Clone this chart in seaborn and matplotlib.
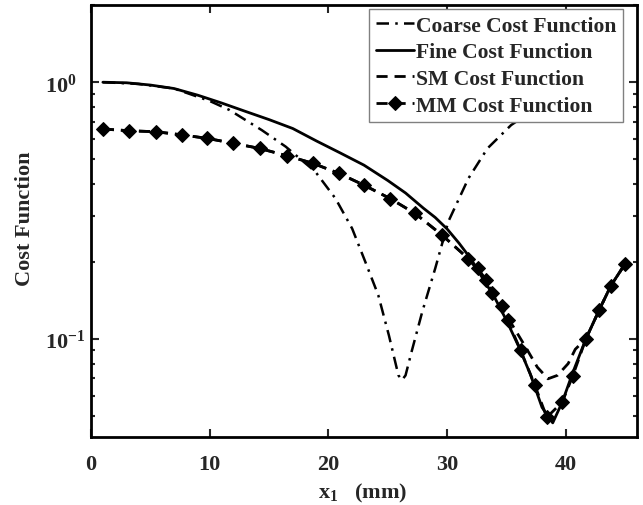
import matplotlib
matplotlib.use('Agg')
from matplotlib import pyplot as plt
from matplotlib.ticker import FixedLocator, LogLocator, NullFormatter
import seaborn as sns

# ─────────────────────────────────────────────
# DATA
# ─────────────────────────────────────────────

fine_x = [1, 3, 5, 7, 9, 11, 13, 15, 17, 19, 21, 23, 25, 26.5, 28, 29, 30, 31,
          32, 33, 34, 35, 36, 37, 38, 38.9, 39.7, 40.6, 41.7, 42.8, 43.8, 45.0]
fine_y = [1.0, 0.995, 0.975, 0.945, 0.89, 0.83, 0.77, 0.715, 0.66, 0.59, 0.53,
          0.475, 0.414, 0.37, 0.323, 0.297, 0.268, 0.236, 0.205, 0.172, 0.145,
          0.118, 0.094, 0.073, 0.054, 0.047, 0.0566, 0.074, 0.100, 0.129, 0.161,
          0.196]

# coarse curve runs on behind the legend after x ~ 36
coarse_x = [1, 4, 7, 10, 11.65, 14.4, 16.4, 18.9, 20.6, 22.0, 23.1, 24.2, 25.1,
            25.9, 26.2, 26.5, 27.0, 27.9, 29.0, 30.1, 31.8, 33.4, 35.4, 38, 41, 44]
coarse_y = [1.0, 0.985, 0.945, 0.845, 0.78, 0.65, 0.561, 0.448, 0.352, 0.269, 0.20,
            0.148, 0.103, 0.072, 0.069, 0.072, 0.0887, 0.127, 0.188, 0.286, 0.422,
            0.552, 0.681, 0.82, 0.96, 1.08]

mm_x = [1.0, 3.2, 5.5, 7.7, 9.8, 12.0, 14.2, 16.5, 18.7, 20.9, 23.0, 25.2, 27.3,
        29.6, 31.8, 32.6, 33.3, 33.8, 34.6, 35.1, 36.2, 37.4, 38.4, 39.7, 40.6,
        41.7, 42.8, 43.8, 45.0]
mm_y = [0.657, 0.647, 0.641, 0.623, 0.604, 0.578, 0.552, 0.517, 0.483, 0.441,
        0.397, 0.352, 0.308, 0.253, 0.205, 0.188, 0.169, 0.151, 0.134, 0.118,
        0.090, 0.0658, 0.0494, 0.0566, 0.0719, 0.100, 0.129, 0.161, 0.196]

sm_x = [1.0, 3.2, 5.5, 7.7, 9.8, 12.0, 14.2, 16.5, 18.7, 20.9, 23.0, 25.2, 27.3,
        29.6, 31.8, 33.3, 35.1, 35.5, 36.7, 37.6, 38.5, 39.3, 40.2, 40.8, 41.7,
        42.8, 43.8, 45.0]
sm_y = [0.657, 0.647, 0.641, 0.623, 0.604, 0.578, 0.552, 0.517, 0.483, 0.441,
        0.397, 0.352, 0.308, 0.253, 0.205, 0.169, 0.118, 0.113, 0.0914, 0.0775,
        0.0698, 0.072, 0.080, 0.091, 0.100, 0.129, 0.161, 0.196]

x_ticks = [0, 10, 20, 30, 40]
y_ticks = [0.1, 1.0]
y_tick_labels = [r'$\mathbf{10^{-1}}$', r'$\mathbf{10^{0}}$']

# ─────────────────────────────────────────────
# STYLE
# ─────────────────────────────────────────────

sns.set_style('ticks')
plt.rcParams['font.family'] = ['Liberation Serif', 'DejaVu Serif']
plt.rcParams['font.weight'] = 'bold'
plt.rcParams['mathtext.fontset'] = 'custom'
plt.rcParams['mathtext.rm'] = 'Liberation Serif:bold'
plt.rcParams['mathtext.bf'] = 'Liberation Serif:bold'
plt.rcParams['mathtext.it'] = 'Liberation Serif:bold'

W, H = 643, 506
L, R, T, B = 91, 637, 6, 438
fig = plt.figure(figsize=(W/100, H/100), dpi=100)
ax = fig.add_axes([L/W, 1-B/H, (R-L)/W, (B-T)/H])

lw = 2.0
sns.lineplot(x=coarse_x, y=coarse_y, ax=ax, color='black', lw=1.8,
             linestyle=(0, (5, 2.5, 1, 2.5)), label='Coarse Cost Function')
sns.lineplot(x=fine_x, y=fine_y, ax=ax, color='black', lw=lw,
             linestyle='-', label='Fine Cost Function')
sns.lineplot(x=sm_x, y=sm_y, ax=ax, color='black', lw=lw,
             linestyle=(0, (4, 2.5)), label='SM Cost Function')
sns.lineplot(x=mm_x, y=mm_y, ax=ax, color='black', lw=lw,
             linestyle=(0, (4, 2.5)), marker='D', markersize=7.5,
             markerfacecolor='black', markeredgecolor='black',
             label='MM Cost Function')

ax.set_yscale('log')
ax.set_xlim(0, 46)
ax.set_ylim(0.0414, 2.0)

ax.xaxis.set_major_locator(FixedLocator(x_ticks))
ax.set_xticklabels([str(t) for t in x_ticks])
ax.yaxis.set_major_locator(FixedLocator(y_ticks))
ax.set_yticklabels(y_tick_labels)
ax.yaxis.set_minor_locator(LogLocator(base=10, subs=range(2, 10)))
ax.yaxis.set_minor_formatter(NullFormatter())

ax.tick_params(which='both', direction='in', top=True, right=True,
               labelsize=16, width=1.5)
ax.tick_params(axis='x', pad=12)
ax.tick_params(axis='y', pad=33)
ax.tick_params(which='major', length=6)
ax.tick_params(which='minor', length=3)
for t in ax.get_yticklabels():
    t.set_horizontalalignment('left')
for s in ax.spines.values():
    s.set_linewidth(2)
    s.set_color('black')

ax.set_xlabel(r'$\mathbf{x_1}$   (mm)', fontsize=16, fontweight='bold')
ax.set_ylabel('Cost Function', fontsize=16, fontweight='bold')
ax.xaxis.set_label_coords((363-L)/(R-L), (B-493)/(B-T))
ax.yaxis.set_label_coords((25-L)/(R-L), (B-219)/(B-T))
ax.xaxis.label.set_va('center')
ax.yaxis.label.set_va('center')

leg = ax.legend(loc='upper right',
                bbox_to_anchor=((623-L)/(R-L), (B-10)/(B-T)),
                fontsize=15.6, handlelength=1.75, handletextpad=0.12,
                labelspacing=0.3, borderpad=0.3, borderaxespad=0,
                fancybox=False, framealpha=1, edgecolor='gray', numpoints=1)
leg.get_frame().set_linewidth(1.0)
for t in leg.get_texts():
    t.set_fontweight('bold')

fig.savefig('out.png', dpi=100)
